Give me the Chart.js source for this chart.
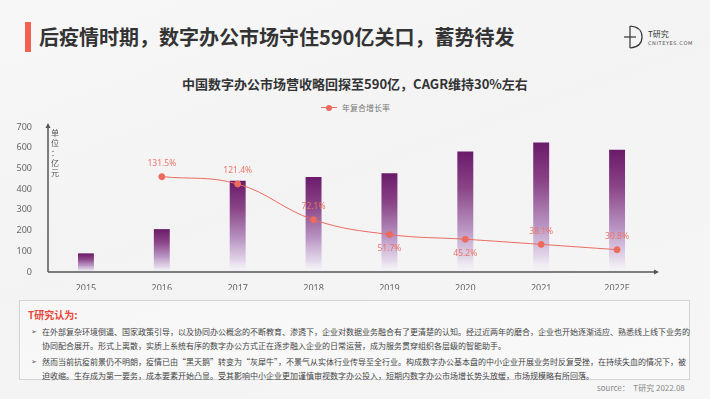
<!DOCTYPE html>
<html>
<head>
<meta charset="utf-8">
<script src="https://cdn.jsdelivr.net/npm/chart.js@4"></script>
<style>
  body { margin: 0; }
  #page {
    position: relative; width: 710px; height: 399px; overflow: hidden;
    background: linear-gradient(160deg, #f7f7f8 0%, #f3f3f4 45%, #f6f6f7 100%);
    font-family: "Noto Sans CJK SC", "Noto Sans", sans-serif; color: #333;
  }
  .bar { position: absolute; left: 25px; top: 22px; width: 6px; height: 30px; background: #f0624f; }
  .title { position: absolute; left: 39px; top: 23px; font-size: 20px; font-weight: bold; line-height: 28px; color: #333; white-space: nowrap; }
  .sub { position: absolute; left: 0; width: 710px; top: 75px; text-align: center; font-size: 13px; font-weight: bold; color: #333; line-height: 18px; }
  .legend { position: absolute; left: 321px; top: 102px; font-size: 8px; color: #777; line-height: 12px; white-space: nowrap; }
  .legend i { display: inline-block; position: relative; width: 16px; height: 1px; background: #ec6a5e; vertical-align: middle; margin-right: 5px; top: -1px; }
  .legend i:after { content: ""; position: absolute; left: 5px; top: -2.5px; width: 6px; height: 6px; border-radius: 50%; background: #ec6a5e; }
  #wrap { position: absolute; left: 0; top: 100px; width: 710px; height: 190px; }
  .box { position: absolute; left: 19px; top: 300px; width: 669px; height: 78px; border: 1px solid #d6d2da; background: rgba(255,255,255,0.35); }
  .box h4 { margin: 0; position: absolute; left: 8px; top: 7px; font-size: 10px; color: #e8473a; font-weight: bold; line-height: 14px; }
  .box ul { list-style: none; margin: 0; padding: 0; position: absolute; left: 10px; top: 24px; width: 656px; }
  .box li { position: relative; padding-left: 12px; font-size: 8px; line-height: 13.5px; color: #444; margin-bottom: 3px; white-space: nowrap; }
  .box li:before { content: "➢"; position: absolute; left: 1px; top: 0; font-size: 7px; color: #555; }
  .source { position: absolute; left: 597px; top: 382px; font-size: 8px; color: #888; white-space: nowrap; }
  .logo { position: absolute; left: 622px; top: 24px; }
  .logo .t1 { position: absolute; left: 26px; top: 4px; font-size: 8px; color: #333; white-space: nowrap; }
  .logo .t2 { position: absolute; left: 26px; top: 16px; font-size: 5px; color: #555; letter-spacing: 0.6px; white-space: nowrap; font-family: "DejaVu Sans", sans-serif; }
</style>
</head>
<body>
<div id="page">
  <div class="bar"></div>
  <div class="title">后疫情时期，数字办公市场守住590亿关口，蓄势待发</div>
  <div class="logo">
    <svg width="24" height="26" viewBox="0 0 24 26">
      <path d="M8 2 Q20 3 20 13 Q20 23 8 24" fill="none" stroke="#333" stroke-width="1.2"/>
      <line x1="8" y1="2" x2="8" y2="24" stroke="#333" stroke-width="1.2"/>
      <line x1="2" y1="13" x2="14" y2="13" stroke="#333" stroke-width="1.2"/>
    </svg>
    <div class="t1">T研究</div>
    <div class="t2">CNITEYES.COM</div>
  </div>
  <div class="sub">中国数字办公市场营收略回探至590亿，CAGR维持30%左右</div>
  <div class="legend"><i></i>年复合增长率</div>
  <div id="wrap"><canvas id="chart"></canvas></div>
  <div class="box">
    <h4>T研究认为:</h4>
    <ul>
      <li>在外部复杂环境倒逼、国家政策引导，以及协同办公概念的不断教育、渗透下，企业对数据业务融合有了更清楚的认知。经过近两年的磨合，企业也开始逐渐适应、熟悉线上线下业务的<br>协同配合展开。形式上离散，实质上系统有序的数字办公方式正在逐步融入企业的日常运营，成为服务贯穿组织各层级的智能助手。</li>
      <li>然而当前抗疫前景仍不明朗，疫情已由“黑天鹅”转变为“灰犀牛”，不景气从实体行业传导至全行业。构成数字办公基本盘的中小企业开展业务时反复受挫，在持续失血的情况下，被<br>迫收缩。生存成为第一要务，成本要素开始凸显。受其影响中小企业更加谨慎审视数字办公投入，短期内数字办公市场增长势头放缓，市场规模略有所回落。</li>
    </ul>
  </div>
  <div class="source">source：&nbsp; T研究 2022.08</div>
</div>
<script>
const years = ['2015', '2016', '2017', '2018', '2019', '2020', '2021', '2022E'];
const revenue = [90, 207, 440, 459, 477, 582, 625, 590];
const growth = [null, 131.5, 121.4, 72.1, 51.7, 45.2, 38.1, 30.8];
const unitText = ['单', '位', '：', '亿', '元'];

// which growth labels sit under their point
const belowIdx = [4, 5];
const tickFont = '"Noto Sans", "DejaVu Sans", sans-serif';

function barFill(ctx) {
    const chart = ctx.chart;
    const y = chart.scales.y;
    if (!chart.chartArea || !y || ctx.raw == null) return '#7a2a78';
    const top = y.getPixelForValue(ctx.raw);
    const bottom = y.getPixelForValue(0);
    const g = chart.ctx.createLinearGradient(0, top, 0, bottom);
    g.addColorStop(0, 'rgb(106,26,106)');
    g.addColorStop(0.3, 'rgb(138,68,134)');
    g.addColorStop(0.65, 'rgb(186,150,196)');
    g.addColorStop(0.88, 'rgba(222,208,230,0.85)');
    g.addColorStop(1, 'rgba(245,242,248,0.2)');
    return g;
}

const extras = {
    id: 'extras',
    afterDraw(chart) {
        const c = chart.ctx;
        const a = chart.chartArea;
        c.save();
        // axes with arrows
        c.strokeStyle = '#555';
        c.fillStyle = '#555';
        c.lineWidth = 1.5;
        c.beginPath();
        c.moveTo(a.left, a.bottom);
        c.lineTo(a.left, a.top - 1);
        c.moveTo(a.left, a.bottom);
        c.lineTo(a.right + 1, a.bottom);
        c.stroke();
        c.beginPath();
        c.moveTo(a.left, a.top - 4);
        c.lineTo(a.left - 2.5, a.top + 1);
        c.lineTo(a.left + 2.5, a.top + 1);
        c.closePath();
        c.fill();
        c.beginPath();
        c.moveTo(a.right + 4, a.bottom);
        c.lineTo(a.right - 1, a.bottom - 2.5);
        c.lineTo(a.right - 1, a.bottom + 2.5);
        c.closePath();
        c.fill();
        // unit text
        c.fillStyle = '#555';
        c.font = '8px "Noto Sans CJK SC"';
        c.textAlign = 'center';
        c.textBaseline = 'middle';
        unitText.forEach((ch, i) => c.fillText(ch, a.left + 7, a.top + 6 + i * 10));
        // growth labels
        const meta = chart.getDatasetMeta(1);
        c.fillStyle = '#ec7468';
        c.font = '8.5px ' + tickFont;
        meta.data.forEach((pt, i) => {
            if (growth[i] == null) return;
            const dy = belowIdx.includes(i) ? 14 : -13;
            c.fillText(growth[i].toFixed(1) + '%', pt.x, pt.y + dy);
        });
        c.restore();
    }
};

new Chart(document.getElementById('chart'), {
    data: {
        labels: years,
        datasets: [
            {
                type: 'bar',
                label: '营收',
                data: revenue,
                backgroundColor: barFill,
                barPercentage: 0.21,
                categoryPercentage: 1,
                yAxisID: 'y',
                order: 2
            },
            {
                type: 'line',
                label: '年复合增长率',
                data: growth,
                borderColor: '#ec6a5e',
                backgroundColor: '#ec6a5e',
                borderWidth: 1,
                pointRadius: 3,
                tension: 0.4,
                yAxisID: 'y2',
                order: 1
            }
        ]
    },
    options: {
        responsive: true,
        maintainAspectRatio: false,
        animation: false,
        layout: { padding: { top: 27, right: 55, left: 0, bottom: 0 } },
        plugins: { legend: { display: false }, tooltip: { enabled: false } },
        scales: {
            x: {
                grid: { display: false },
                border: { display: false },
                ticks: { color: '#666', font: { size: 9, family: tickFont }, padding: 3 },
                afterFit: s => { s.height = 18; }
            },
            y: {
                min: 0, max: 700,
                grid: { display: false },
                border: { display: false },
                ticks: { stepSize: 100, color: '#666', font: { size: 9, family: tickFont }, padding: 8 },
                afterFit: s => { s.width = 48; }
            },
            y2: { display: false, min: 0, max: 200 }
        }
    },
    plugins: [extras]
});
</script>
</body>
</html>
